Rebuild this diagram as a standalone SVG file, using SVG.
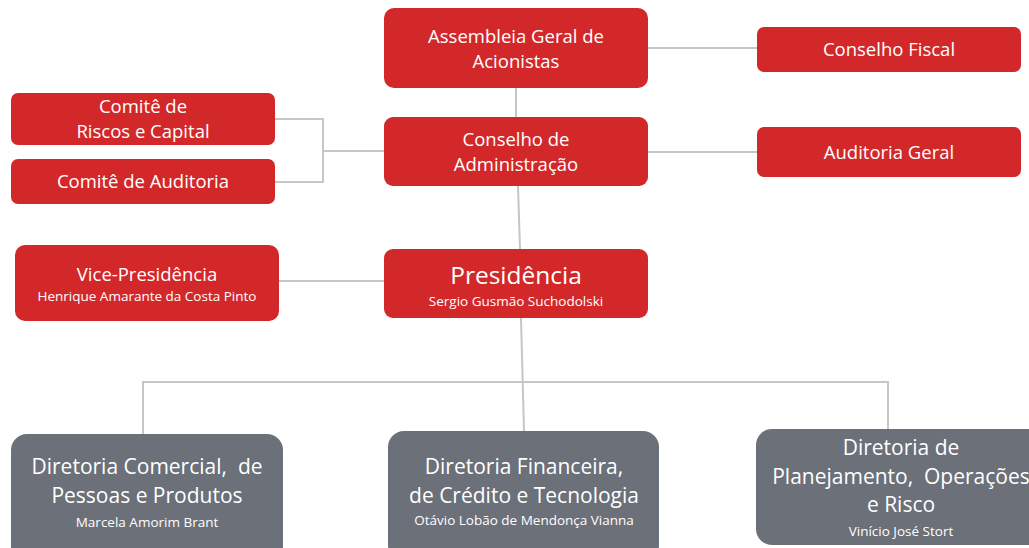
<svg xmlns="http://www.w3.org/2000/svg" width="1029" height="548" viewBox="0 0 1029 548">
<style>
.red{fill:#D3282A;}
.gray{fill:#6B7079;}
.t{font-family:"Open Sans","Liberation Sans",sans-serif;fill:#fff;text-anchor:middle;white-space:pre;}
.m{font-size:18.5px;}
.b{font-size:21px;}
.p{font-size:24.5px;}
.s{font-size:13.5px;}
.ln{fill:none;stroke:#C6C6C6;stroke-width:2;}
</style>
<rect width="1029" height="548" fill="#fff"/>
<g id="connectors">
<path class="ln" d="M648 48H757"/>
<path class="ln" d="M648 152H757"/>
<path class="ln" d="M516 88V117"/>
<path class="ln" d="M275 119H323V182H275M323 151H384"/>
<path class="ln" d="M518 186L520 249"/>
<path class="ln" d="M279 281H384"/>
<path class="ln" d="M521 318L524 431"/>
<path class="ln" d="M143 434V382H888V429"/>
</g>
<g id="assembleia"><rect class="red" x="384" y="8" width="264" height="80" rx="10"/>
<text class="t m" x="516" y="43">Assembleia Geral de</text><text class="t m" x="516" y="68">Acionistas</text></g>
<g id="conselho-fiscal"><rect class="red" x="757" y="27" width="264" height="45" rx="7"/>
<text class="t m" x="889" y="56">Conselho Fiscal</text></g>
<g id="comite-riscos"><rect class="red" x="11" y="93" width="264" height="52" rx="7"/>
<text class="t m" x="143" y="113">Comitê de</text><text class="t m" x="143" y="138">Riscos e Capital</text></g>
<g id="comite-auditoria"><rect class="red" x="11" y="159" width="264" height="45" rx="7"/>
<text class="t m" x="143" y="188">Comitê de Auditoria</text></g>
<g id="conselho-adm"><rect class="red" x="384" y="117" width="264" height="69" rx="9"/>
<text class="t m" x="516" y="146">Conselho de</text><text class="t m" x="516" y="171">Administração</text></g>
<g id="auditoria-geral"><rect class="red" x="757" y="127" width="264" height="50" rx="7"/>
<text class="t m" x="889" y="159">Auditoria Geral</text></g>
<g id="vice-presidencia"><rect class="red" x="15" y="245" width="264" height="76" rx="10"/>
<text class="t m" x="147" y="281">Vice-Presidência</text><text class="t s" x="147" y="301">Henrique Amarante da Costa Pinto</text></g>
<g id="presidencia"><rect class="red" x="384" y="249" width="264" height="69" rx="9"/>
<text class="t p" x="516" y="284">Presidência</text><text class="t s" x="516" y="306">Sergio Gusmão Suchodolski</text></g>
<g id="dir-comercial"><rect class="gray" x="11" y="434" width="272" height="130" rx="16"/>
<text class="t b" x="147" y="474">Diretoria Comercial,  de</text><text class="t b" x="147" y="503">Pessoas e Produtos</text><text class="t s" x="147" y="527">Marcela Amorim Brant</text></g>
<g id="dir-financeira"><rect class="gray" x="388" y="431" width="271" height="130" rx="16"/>
<text class="t b" x="524" y="474">Diretoria Financeira,</text><text class="t b" x="524" y="503">de Crédito e Tecnologia</text><text class="t s" x="524" y="525">Otávio Lobão de Mendonça Vianna</text></g>
<g id="dir-planejamento"><rect class="gray" x="756" y="429" width="300" height="116" rx="16"/>
<text class="t b" x="901" y="455">Diretoria de</text><text class="t b" x="901" y="484">Planejamento,  Operações</text><text class="t b" x="901" y="512">e Risco</text><text class="t s" x="901" y="536">Vinício José Stort</text></g>
</svg>
